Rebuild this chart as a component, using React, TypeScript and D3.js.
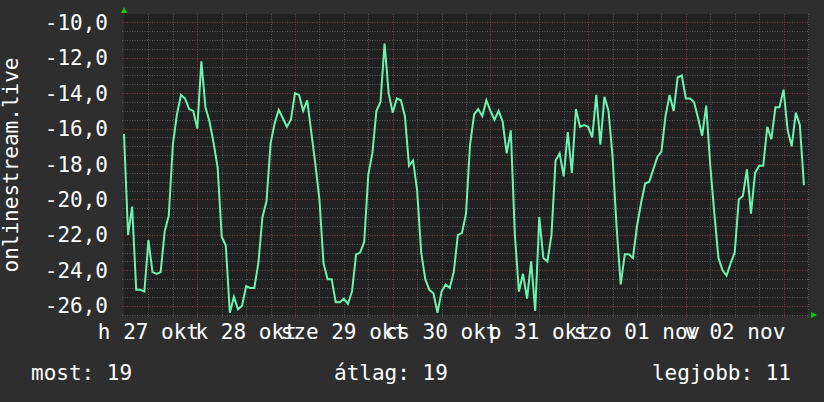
import React from 'react';
import * as d3 from 'd3';

const WIDTH = 824;
const HEIGHT = 402;

// time axis: hourly samples starting Monday 27 Oct 06:00
const START = new Date(2025, 9, 27, 6, 0, 0);
const SPAN_HOURS = 168;

const VALUES: number[] = [
  -16.3, -22.0, -20.4, -25.1, -25.1, -25.2, -22.3, -24.1, -24.2, -24.1,
  -21.8, -20.9, -16.9, -15.2, -14.1, -14.3, -14.9, -15.0, -16.0, -12.2,
  -14.8, -15.6, -16.8, -18.2, -22.1, -22.6, -26.4, -25.5, -26.2, -26.0,
  -24.9, -25.0, -25.0, -23.6, -21.0, -20.1, -16.85, -15.7, -14.95, -15.4,
  -15.9, -15.5, -14.0, -14.1, -15.0, -14.4, -16.2, -18.0, -20.0, -23.6,
  -24.5, -24.5, -25.8, -25.8, -25.6, -25.9, -25.2, -23.1, -23.0, -22.4,
  -18.6, -17.4, -15.0, -14.5, -11.2, -14.0, -15.1, -14.3, -14.4, -15.3,
  -18.1, -17.8, -19.5, -23.0, -24.5, -25.1, -25.3, -26.4, -25.2, -24.8,
  -25.0, -24.1, -22.0, -21.9, -20.8, -16.9, -15.2, -14.9, -15.3, -14.4,
  -15.0, -15.5, -15.0, -15.6, -17.4, -16.1, -22.0, -25.2, -24.2, -25.6,
  -23.5, -26.3, -21.0, -23.3, -23.5, -22.0, -17.8, -17.4, -18.7, -16.2,
  -18.5, -14.9, -15.9, -15.8, -15.9, -16.5, -14.1, -16.9, -14.2, -15.0,
  -17.6, -21.6, -24.8, -23.1, -23.1, -23.3, -21.5, -20.2, -19.1, -19.0,
  -18.3, -17.6, -17.3, -15.3, -14.1, -15.0, -13.1, -13.0, -14.3, -14.3,
  -14.5, -15.4, -16.4, -14.7, -18.1, -20.8, -23.3, -24.0, -24.3, -23.6,
  -23.0, -20.0, -19.8, -18.3, -20.8, -18.5, -18.1, -18.1, -15.9, -16.6,
  -14.8, -14.8, -13.8, -16.1, -17.0, -15.1, -15.8, -19.2,
];

const DAY_LABELS = ['h 27 okt', 'k 28 okt', 'sze 29 okt', 'cs 30 okt', 'p 31 okt', 'szo 01 nov', 'v 02 nov'];
const Y_TICKS = [-26, -24, -22, -20, -18, -16, -14, -12, -10];
const Y_TITLE = 'onlinestream.live';
const LEGEND_LABELS = ['most', 'átlag', 'legjobb'];
const LEGEND_VALUES = ['19', '19', '11'];

const BG = '#2e2e2e';
const CANVAS = '#212121';
const MINOR = '#5a5a5a';
const MAJOR = '#7e3c3c';
const LINE = '#6cf3b3';
const ARROW = '#00d000';
const TEXT = '#ffffff';
const FONT = "'DejaVu Sans Mono', monospace";

export default function App() {
  const end = d3.timeHour.offset(START, SPAN_HOURS);
  const x = d3.scaleTime().domain([START, end]).range([124, 808]);
  const y = d3.scaleLinear().domain([-26.58, -9.53]).range([316, 14]);
  const [x0, x1] = x.range();
  const [yb, yt] = y.range();
  const right = x1 + 1;

  const minorX = x.ticks(d3.timeHour.every(6)!).filter((d) => d.getHours() !== 0 && +d > +START);
  const majorX = x.ticks(d3.timeDay.every(1)!).filter((d) => +d > +START);
  const minorY = d3.range(-26.5, -9.9, 0.5).filter((v) => Math.abs(v % 2) > 0.01);
  const labelDays = d3.timeDay.range(d3.timeDay.floor(START), end).slice(0, DAY_LABELS.length);

  const line = d3
    .line<number>()
    .x((_, i) => x(d3.timeHour.offset(START, i)))
    .y((d) => y(d));

  const px = (v: number) => Math.round(v) + 0.5;

  const legendX = [31, 334, 791];
  const legendAnchor = ['start', 'start', 'end'];

  return (
    <svg
      width={WIDTH}
      height={HEIGHT}
      style={{ position: 'absolute', left: 0, top: 0, display: 'block' }}
      fontFamily={FONT}
    >
      <rect x={0} y={0} width={WIDTH} height={HEIGHT} fill={BG} />
      <rect x={x0} y={yt} width={right - x0} height={yb - yt} fill={CANVAS} />

      {/* minor grid */}
      <g stroke={MINOR} strokeWidth={1} strokeDasharray="1,1.5">
        {minorY.map((v) => (
          <line key={'my' + v} x1={x0 - 2} x2={right} y1={px(y(v))} y2={px(y(v))} />
        ))}
        {minorX.map((d) => (
          <line key={'mx' + +d} x1={px(x(d))} x2={px(x(d))} y1={yt} y2={yb + 2} />
        ))}
      </g>
      {/* major grid */}
      <g stroke={MAJOR} strokeWidth={1} strokeDasharray="1,1.5">
        {Y_TICKS.map((v) => (
          <line key={'My' + v} x1={x0 - 2} x2={right} y1={px(y(v))} y2={px(y(v))} />
        ))}
        {majorX.map((d) => (
          <line key={'Mx' + +d} x1={px(x(d))} x2={px(x(d))} y1={yt} y2={yb + 3} />
        ))}
      </g>

      {/* data line */}
      <path d={line(VALUES) || ''} fill="none" stroke={LINE} strokeWidth={2} strokeLinejoin="miter" />

      {/* arrows */}
      <path d={`M${x0 - 3},${yt - 1}L${x0 + 3},${yt - 1}L${x0},${yt - 7}Z`} fill={ARROW} />
      <path d={`M${right + 2},${yb - 4}L${right + 2},${yb + 2}L${right + 8},${yb - 1}Z`} fill={ARROW} />

      {/* y tick labels */}
      <g fill={TEXT} fontSize={21} textAnchor="end">
        {Y_TICKS.map((v) => (
          <text key={'yl' + v} x={108} y={y(v) + 7.5}>
            {d3.format('.1f')(v).replace('.', ',').replace('−', '-')}
          </text>
        ))}
      </g>

      {/* x labels */}
      <g fill={TEXT} fontSize={21} textAnchor="middle">
        {labelDays.map((d, i) => (
          <text key={'xl' + i} x={x(d3.timeHour.offset(d, 12))} y={339}>
            {DAY_LABELS[i]}
          </text>
        ))}
      </g>

      {/* y title */}
      <text
        fill={TEXT}
        fontSize={21}
        textAnchor="middle"
        transform={`translate(18,${(yt + yb) / 2}) rotate(-90)`}
      >
        {Y_TITLE}
      </text>

      {/* legend */}
      <g fill={TEXT} fontSize={21}>
        {LEGEND_LABELS.map((l, i) => (
          <text key={'lg' + i} x={legendX[i]} y={380} textAnchor={legendAnchor[i]} xmlSpace="preserve">
            {`${l}: ${LEGEND_VALUES[i]}`}
          </text>
        ))}
      </g>
    </svg>
  );
}
